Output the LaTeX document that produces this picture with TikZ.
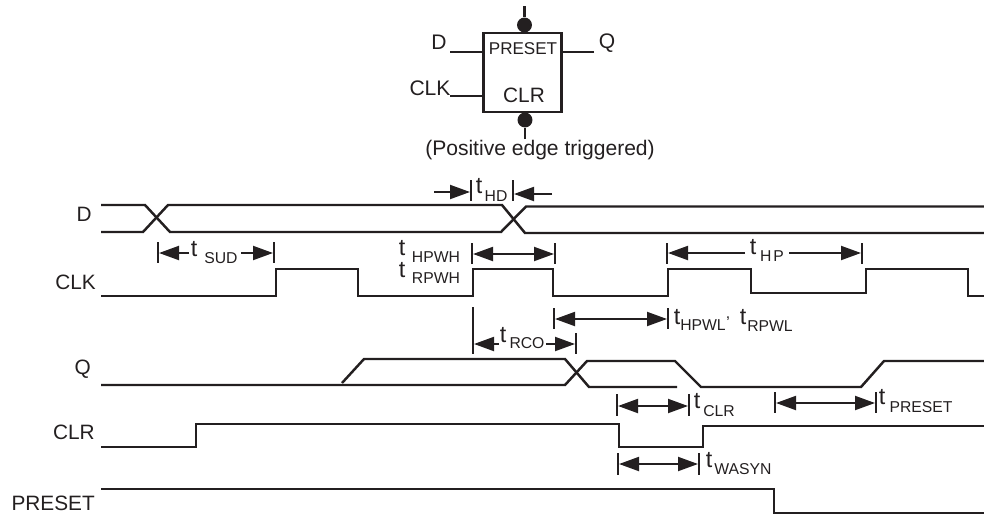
\documentclass[tikz,border=0pt]{standalone}
\usepackage{fontspec}
\setmainfont{Liberation Sans}
\usetikzlibrary{arrows.meta}
\definecolor{ink}{HTML}{231F20}
\newcommand{\txtsize}[1]{\fontsize{#1}{#1}\selectfont}
% tbar: vertical end mark; x, y1, y2
\newcommand{\tbar}[3]{\draw[markline] (#1,#2) -- (#1,#3);}
\tikzset{
  wave/.style={draw=ink,line width=1.85pt,line join=miter},
  markline/.style={draw=ink,line width=1.5pt},
  dim/.style={draw=ink,line width=1.5pt,-{Triangle[length=15pt,width=10.5pt]}},
  dimboth/.style={draw=ink,line width=1.5pt,{Triangle[length=15pt,width=10.5pt]}-{Triangle[length=15pt,width=10.5pt]}},
  lab/.style={inner sep=0pt,text=ink,font=\txtsize{15.6pt}},
  blab/.style={inner sep=0pt,text=ink,font=\txtsize{15.8pt}},
  tlab/.style={inner sep=0pt,text=ink,font=\txtsize{17.5pt}},
  slab/.style={inner sep=0pt,text=ink,font=\txtsize{11.8pt}},
  ffbox/.style={draw=ink,line width=1.85pt,minimum width=58.5pt,minimum height=59pt,inner sep=0pt},
  pin/.style={circle,fill=ink,inner sep=0pt,minimum size=11.2pt},
}
\begin{document}
\begin{tikzpicture}[x=0.75pt,y=-0.75pt]
\useasboundingbox (0,0) rectangle (984,518);

% flip-flop symbol
\node[ffbox] (ff) at (522.5,72.5) {};
\node[pin] (pt) at (524.5,25) {};
\node[pin] (pb) at (525,120) {};
\coordinate (ptop) at (524.5,6);
\coordinate (pbot) at (525,139);
\coordinate (dend) at (450,52);
\coordinate (qend) at (594,52);
\coordinate (cend) at (450,96);
\draw[wave] (ptop) -- (pt);
\draw[wave] (pt) -- (pt |- ff.north);
\draw[wave] (pbot) -- (pb);
\draw[wave] (pb) -- (pb |- ff.south);
\draw[wave] (dend) -- (dend -| ff.west);
\draw[wave] (qend) -- (qend -| ff.east);
\draw[wave] (cend) -- (cend -| ff.west);
\node[blab] (ld) at (439,42) {D};
\node[blab] (lq) at (607,43) {Q};
\node[blab] (lck) at (430,88) {CLK};
\node[inner sep=0pt,text=ink,font=\txtsize{12.8pt}] (lpr) at (523,49) {PRESET};
\node[lab] (lcl) at (524,95) {CLR};
\node[blab] (lpos) at (540,150) {(Positive edge triggered)};

% signal names
\node[lab,anchor=east] (nd) at (92,214) {D};
\node[lab,anchor=east] (nck) at (96,282) {CLK};
\node[lab,anchor=east] (nq) at (91,369) {Q};
\node[lab,anchor=east] (ncl) at (95,432) {CLR};
\node[lab,anchor=east] (npr) at (95,503) {PRESET};

% D
\draw[wave] (101,205) -- (145,205) -- (170,232) -- (501,232) -- (526,206.5) -- (984,206.5);
\draw[wave] (101,232) -- (143,232) -- (168,205) -- (502,205) -- (525,233) -- (984,233);
% CLK
\draw[wave] (101,296) -- (276,296) -- (276,269) -- (358,269) -- (358,296) -- (473,296) -- (473,269) -- (553,269) -- (553,296) -- (668,296) -- (668,269) -- (751,269) -- (751,293) -- (866,293) -- (866,269) -- (968,269) -- (968,296) -- (984,296);
% Q
\draw[wave] (101,385) -- (565,385) -- (587,361) -- (675,361) -- (701,387) -- (861,387) -- (884,361) -- (984,361);
\draw[wave] (342,383) -- (364,359) -- (565,359) -- (589,387) -- (677,387);
% CLR
\draw[wave] (101,447) -- (196,447) -- (196,424) -- (619,424) -- (619,447) -- (703,447) -- (703,426) -- (984,426);
% PRESET
\draw[wave] (101,489) -- (774,489) -- (774,513) -- (984,513);

% t_SUD
\tbar{158}{242}{263}\tbar{274}{242}{263}
\coordinate (sudl) at (189,253);\coordinate (sudla) at (159,253);
\coordinate (sudr) at (241,253);\coordinate (sudra) at (273,253);
\draw[dim] (sudl) -- (sudla);
\draw[dim] (sudr) -- (sudra);
\node[tlab] (t1) at (194,249) {t};
\node[slab] (s1) at (221,258) {SUD};

% t_HD
\tbar{471}{180}{201}\tbar{513}{180}{201}
\draw[dim] (434,192) -- (470,192);
\draw[dim] (552,194) -- (514,194);
\node[tlab] (t2) at (479,186) {t};
\node[slab] (s2) at (496,196) {HD};

% t_HPWH / t_RPWH
\tbar{472}{243}{264}\tbar{555}{243}{264}
\draw[dimboth] (473,254) -- (554,254);
\node[tlab] (t3) at (402,248.5) {t};
\node[slab] (s3) at (436,257) {HPWH};
\node[tlab] (t4) at (402,270) {t};
\node[slab] (s4) at (436,278) {RPWH};

% t_HPWL, t_RPWL
\tbar{554}{308}{329}\tbar{668}{308}{329}
\draw[dimboth] (555,319) -- (667,319);
\node[tlab] (t5) at (677,317) {t};
\node[slab,anchor=west] (s5) at (680,325) {HPWL};
\node[slab] (c5) at (728,319) {,};
\node[tlab] (t6) at (743,317) {t};
\node[slab,anchor=west] (s6) at (747,326) {RPWL};

% t_HP
\tbar{667}{243}{264}\tbar{862}{243}{264}
\draw[dim] (745,253) -- (668,253);
\draw[dim] (789,253) -- (861,253);
\node[tlab] (t7) at (753,247) {t};
\node[slab,font=\addfontfeatures{LetterSpace=12}\txtsize{11.8pt}] (s7) at (772,256) {HP};

% t_RCO
\tbar{473}{307}{354}\tbar{576}{333}{354}
\draw[dim] (499,344) -- (474,344);
\draw[dim] (546,344) -- (575,344);
\node[tlab] (t8) at (503,335) {t};
\node[slab] (s8) at (527,343) {RCO};

% t_CLR
\tbar{617}{394}{416}\tbar{689}{394}{416}
\draw[dimboth] (618,406) -- (688,406);
\node[tlab] (t9) at (697,401) {t};
\node[slab] (s9) at (719,411) {CLR};

% t_PRESET
\tbar{775}{392}{413}\tbar{876}{392}{413}
\draw[dimboth] (776,403) -- (875,403);
\node[tlab] (t10) at (882,397) {t};
\node[slab] (s10) at (921,407) {PRESET};

% t_WASYN
\tbar{618}{453}{475}\tbar{699}{453}{475}
\draw[dimboth] (619,464) -- (698,464);
\node[tlab] (t11) at (709,460) {t};
\node[slab] (s11) at (743,469) {WASYN};
\end{tikzpicture}
\end{document}
